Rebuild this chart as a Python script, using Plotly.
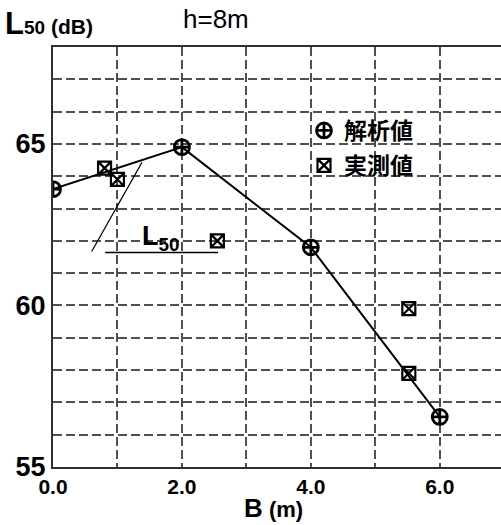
import plotly.graph_objects as go

# Data
calc_B = [0.0, 2.0, 4.0, 6.0]
calc_L50 = [63.6, 64.9, 61.8, 56.55]
meas_B = [0.8, 1.0, 2.55, 5.52, 5.52]
meas_L50 = [64.25, 63.9, 62.0, 59.9, 57.9]
calc_name = "解析値"
meas_name = "実測値"
x_ticks = [0, 1, 2, 3, 4, 5, 6]
x_ticktext = ["0.0", "", "2.0", "", "4.0", "", "6.0"]
y_ticks = list(range(55, 69))
y_ticktext = [str(v) if v % 5 == 0 else "" for v in y_ticks]
# leader lines of the "L50" label (data coords)
leader_x = [0.60, 1.38]
leader_y = [61.67, 64.43]
under_x = [0.81, 2.56]
under_y = 61.64

W, H = 501, 525
ML, MR, MT, MB = 53, 0, 47, 58
PW, PH = W - ML - MR, H - MT - MB

def px(x):
    return (x - ML) / PW

def py(y):
    return (H - MB - y) / PH

fig = go.Figure()
fig.add_trace(go.Scatter(x=calc_B, y=calc_L50, mode="lines",
                         line=dict(color="black", width=2), showlegend=False))
fig.add_trace(go.Scatter(x=calc_B, y=calc_L50, mode="markers", name="<b>" + calc_name + "</b>",
                         legendgroup="a",
                         marker=dict(symbol="circle-cross-open", size=15, color="black",
                                     line=dict(width=2.8, color="black"))))
fig.add_trace(go.Scatter(x=meas_B, y=meas_L50, mode="markers", name="<b>" + meas_name + "</b>",
                         legendgroup="b",
                         marker=dict(symbol="square-x-open", size=13, color="black",
                                     line=dict(width=2.2, color="black"))))

fig.add_shape(type="line", x0=leader_x[0], y0=leader_y[0], x1=leader_x[1], y1=leader_y[1],
              line=dict(color="black", width=1.2))
fig.add_shape(type="line", x0=under_x[0], y0=under_y, x1=under_x[1], y1=under_y,
              line=dict(color="black", width=1.6))

bold = "Liberation Sans"
fig.add_annotation(x=1.68, y=62.1, xref="x", yref="y", showarrow=False,
                   text="<b>L<sub>50</sub></b>", font=dict(family=bold, size=27, color="black"))
fig.add_annotation(x=px(3), y=py(24), xref="paper", yref="paper", xanchor="left", yanchor="middle",
                   showarrow=False,
                   text="<b><span style='font-size:31px'>L</span><span style='font-size:19px'>50</span>"
                        "<span style='font-size:21px'> (dB)</span></b>",
                   font=dict(family=bold, size=21, color="black"))
fig.add_annotation(x=px(216), y=py(19), xref="paper", yref="paper", xanchor="center", yanchor="middle",
                   showarrow=False, text="h=8m", font=dict(family=bold, size=26, color="black"))
fig.add_annotation(x=px(273), y=py(508), xref="paper", yref="paper", xanchor="center", yanchor="middle",
                   showarrow=False,
                   text="<b>B<span style='font-size:22px'> (m)</span></b>",
                   font=dict(family=bold, size=26, color="black"))

grid = dict(showgrid=True, gridcolor="#505050", gridwidth=1.5, griddash="9px,4px")

fig.update_layout(
    width=W, height=H,
    margin=dict(l=ML, r=MR, t=MT, b=MB, autoexpand=False),
    paper_bgcolor="white", plot_bgcolor="white",
    showlegend=True,
    legend=dict(x=px(304), y=py(109), xanchor="left", yanchor="top",
                bgcolor="rgba(0,0,0,0)", itemwidth=30, traceorder="grouped",
                font=dict(family="Noto Sans CJK JP", size=23, color="black", weight="bold"),
                tracegroupgap=2),
    xaxis=dict(range=[0, 6.95], tickvals=x_ticks, ticktext=["<b>%s</b>" % t if t else "" for t in x_ticktext],
               ticks="", showline=True, linecolor="#303030", linewidth=2, mirror=True, automargin=False,
               zeroline=False, tickfont=dict(family=bold, size=21, color="black"),
               **grid),
    yaxis=dict(range=[55, 68], tickvals=y_ticks, ticktext=["<b>%s</b>" % t if t else "" for t in y_ticktext],
               ticks="", showline=True, linecolor="#303030", linewidth=2, automargin=False,
               zeroline=False, tickfont=dict(family=bold, size=27, color="black"),
               **grid),
)

fig.write_html("out.html", config={"displayModeBar": False},
               post_script="document.body.style.margin='0px';document.body.style.padding='0px';")
